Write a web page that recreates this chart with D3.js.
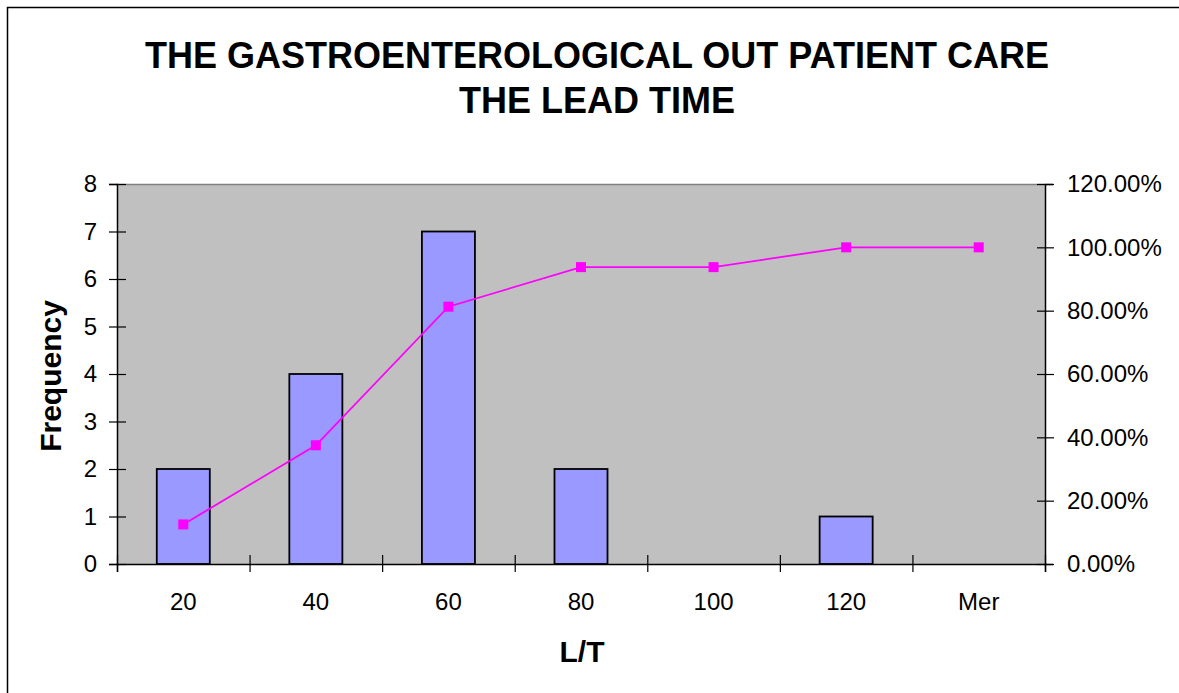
<!DOCTYPE html>
<html>
<head>
<meta charset="utf-8">
<script src="https://cdn.jsdelivr.net/npm/d3@7"></script>
<style>
  html, body { margin: 0; padding: 0; background: #fff; }
  svg { display: block; }
  text { font-family: "Liberation Sans", Arial, sans-serif; }
</style>
</head>
<body>
<svg id="chart" width="1179" height="693"></svg>
<script>
// ---- data ----
const categories = ["20", "40", "60", "80", "100", "120", "Mer"];
const frequency = [2, 4, 7, 2, 0, 1, 0];
const cumulativePct = [0.125, 0.375, 0.8125, 0.9375, 0.9375, 1.0, 1.0];
const leftTicks = [0, 1, 2, 3, 4, 5, 6, 7, 8];
const rightTicks = [0, 0.2, 0.4, 0.6, 0.8, 1.0, 1.2];
const titleLines = ["THE GASTROENTEROLOGICAL OUT PATIENT CARE", "THE LEAD TIME"];
const yTitle = "Frequency";
const xTitle = "L/T";

// ---- layout ----
const svg = d3.select("#chart");
const plot = { left: 117, right: 1045, top: 184, bottom: 564 };
const tickFont = 24;

// outer chart border (right/bottom edges fall outside the picture)
svg.append("rect")
  .attr("x", 7.5).attr("y", 7.5)
  .attr("width", 1200).attr("height", 720)
  .attr("fill", "#fff").attr("stroke", "#000").attr("stroke-width", 1.5);

// title
svg.append("g").selectAll("text").data(titleLines).join("text")
  .attr("x", 597).attr("y", (d, i) => 68 + i * 45)
  .attr("text-anchor", "middle")
  .attr("font-size", 36).attr("font-weight", "bold")
  .attr("fill", "#000")
  .text(d => d);

// scales
const xBand = d3.scaleBand().domain(categories)
  .range([plot.left, plot.right]).paddingInner(0.6).paddingOuter(0.3);
const xLabel = d3.scaleBand().domain(categories).range([plot.left, plot.right]).padding(0);
const xEdge = d3.scaleLinear().domain([0, categories.length]).range([plot.left, plot.right]);
const yL = d3.scaleLinear().domain([0, 8]).range([plot.bottom, plot.top]);
const yR = d3.scaleLinear().domain([0, 1.2]).range([plot.bottom, plot.top]);

// plot background
svg.append("rect")
  .attr("x", plot.left).attr("y", plot.top)
  .attr("width", plot.right - plot.left).attr("height", plot.bottom - plot.top)
  .attr("fill", "#C0C0C0");
svg.append("line")
  .attr("x1", plot.left).attr("x2", plot.right)
  .attr("y1", plot.top + 0.5).attr("y2", plot.top + 0.5)
  .attr("stroke", "#808080").attr("stroke-width", 1.5);

// bars
svg.append("g").selectAll("rect").data(categories).join("rect")
  .attr("x", d => xBand(d))
  .attr("width", xBand.bandwidth())
  .attr("y", (d, i) => yL(frequency[i]))
  .attr("height", (d, i) => yL(0) - yL(frequency[i]))
  .attr("fill", "#9999FF")
  .attr("stroke", "#000").attr("stroke-width", 1.8)
  .attr("display", (d, i) => frequency[i] > 0 ? null : "none");

// left axis
const gL = svg.append("g").attr("transform", `translate(${plot.left},0)`)
  .call(d3.axisLeft(yL).tickValues(leftTicks).tickFormat(d3.format("d")).tickSize(8).tickPadding(12));
gL.select(".domain").attr("stroke", "#000").attr("stroke-width", 1.5);
gL.selectAll(".tick line").attr("x1", 9).attr("x2", -8).attr("stroke", "#000").attr("stroke-width", 1.2);
gL.selectAll(".tick text").attr("font-size", tickFont).attr("font-family", "Liberation Sans, Arial, sans-serif").attr("fill", "#000");

// right axis
const gR = svg.append("g").attr("transform", `translate(${plot.right},0)`)
  .call(d3.axisRight(yR).tickValues(rightTicks).tickFormat(d3.format(".2%")).tickSize(8).tickPadding(14));
gR.select(".domain").attr("stroke", "#000").attr("stroke-width", 1.5);
gR.selectAll(".tick line").attr("x1", -8).attr("x2", 9).attr("stroke", "#000").attr("stroke-width", 1.2);
gR.selectAll(".tick text").attr("font-size", tickFont).attr("font-family", "Liberation Sans, Arial, sans-serif").attr("fill", "#000");

// bottom axis: boundary ticks
const gB = svg.append("g").attr("transform", `translate(0,${plot.bottom})`)
  .call(d3.axisBottom(xEdge).tickValues(d3.range(0, categories.length + 1)).tickFormat("").tickSize(8));
gB.select(".domain").attr("stroke", "#000").attr("stroke-width", 1.5);
gB.selectAll(".tick line").attr("y1", -9).attr("y2", 8).attr("stroke", "#000").attr("stroke-width", 1.2);

// bottom axis: category labels
const gB2 = svg.append("g").attr("transform", `translate(0,${plot.bottom})`)
  .call(d3.axisBottom(xLabel).tickSize(0).tickPadding(29));
gB2.select(".domain").remove();
gB2.selectAll(".tick text").attr("font-size", tickFont).attr("font-family", "Liberation Sans, Arial, sans-serif").attr("fill", "#000");

// cumulative line
const lineGen = d3.line()
  .x((d, i) => xLabel(categories[i]) + xLabel.bandwidth() / 2)
  .y(d => yR(d));
svg.append("path").datum(cumulativePct)
  .attr("d", lineGen)
  .attr("fill", "none").attr("stroke", "#FF00FF").attr("stroke-width", 1.8);
svg.append("g").selectAll("rect").data(cumulativePct).join("rect")
  .attr("x", (d, i) => xLabel(categories[i]) + xLabel.bandwidth() / 2 - 5)
  .attr("y", d => yR(d) - 5)
  .attr("width", 10).attr("height", 10)
  .attr("fill", "#FF00FF");

// axis titles
svg.append("text")
  .attr("transform", `translate(61,${(plot.top + plot.bottom) / 2 + 2}) rotate(-90)`)
  .attr("text-anchor", "middle")
  .attr("font-size", 30).attr("font-weight", "bold").attr("fill", "#000")
  .text(yTitle);
svg.append("text")
  .attr("x", 582).attr("y", 662)
  .attr("text-anchor", "middle")
  .attr("font-size", 30).attr("font-weight", "bold").attr("fill", "#000")
  .text(xTitle);
</script>
</body>
</html>
